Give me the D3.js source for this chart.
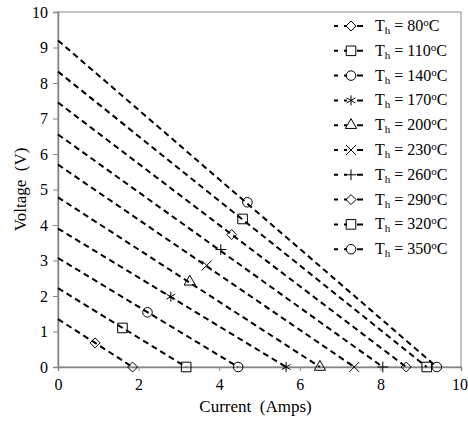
<!DOCTYPE html>
<html>
<head>
<meta charset="utf-8">
<script src="https://cdn.jsdelivr.net/npm/d3@7"></script>
<style>
  body { margin: 0; background: #fff; }
  text { font-family: "Liberation Serif", "Times New Roman", serif; fill: #000; }
</style>
</head>
<body>
<svg id="vis" width="468" height="421"></svg>
<script>
// hot side temperatures, one series each
const temps = [80, 110, 140, 170, 200, 230, 260, 290, 320, 350];
const symbols = ["diamond", "square", "circle", "asterisk", "triangle", "cross", "plus", "diamond", "square", "circle"];

// open circuit voltage (V) and short circuit current (A)
const vocValues = [1.35, 2.22, 3.07, 3.9, 4.78, 5.7, 6.55, 7.45, 8.32, 9.2];
const iscValues = [1.85, 3.18, 4.47, 5.66, 6.5, 7.35, 8.06, 8.64, 9.15, 9.4];

// the marker in the middle of each line
const midCurrent = [0.92, 1.6, 2.22, 2.8, 3.27, 3.69, 4.04, 4.31, 4.58, 4.7];
const midVoltage = [0.68, 1.1, 1.54, 1.98, 2.4, 2.86, 3.31, 3.73, 4.17, 4.64];

const xTicks = [0, 2, 4, 6, 8, 10];
const yTicks = [0, 1, 2, 3, 4, 5, 6, 7, 8, 9, 10];

const svg = d3.select("#vis");
const margin = { top: 12, right: 7, bottom: 54, left: 58 };
const width = +svg.attr("width") - margin.left - margin.right;
const height = +svg.attr("height") - margin.top - margin.bottom;
const axisColor = "#868686";
const serif = "'Liberation Serif', 'Times New Roman', serif";

const g = svg.append("g")
  .attr("transform", `translate(${margin.left}, ${margin.top})`);

const x = d3.scaleLinear().domain([0, 10]).range([0, width]);
const y = d3.scaleLinear().domain([0, 10]).range([height, 0]);

// plot frame
g.append("rect")
  .attr("width", width)
  .attr("height", height)
  .attr("fill", "none")
  .attr("stroke", axisColor)
  .attr("stroke-width", 1);

const xAxis = g.append("g")
  .attr("transform", `translate(0, ${height})`)
  .call(d3.axisBottom(x).tickValues(xTicks).tickSizeOuter(0).tickSize(4).tickPadding(8));
const yAxis = g.append("g")
  .call(d3.axisLeft(y).tickValues(yTicks).tickSizeOuter(0).tickSize(5).tickPadding(5));

[xAxis, yAxis].forEach(a => {
  a.attr("font-family", null);
  a.select(".domain").attr("stroke", axisColor).attr("stroke-width", 1.5);
  a.selectAll(".tick line").attr("stroke", axisColor);
  a.selectAll(".tick text")
    .style("font-family", serif)
    .attr("font-size", 16)
    .attr("fill", "#000");
});
// keep the last x label inside the page
xAxis.selectAll(".tick text").filter(d => d === 10).attr("dx", -1.5);

g.append("text")
  .attr("x", width / 2 - 4)
  .attr("y", height + 45)
  .attr("text-anchor", "middle")
  .attr("font-size", 17)
  .style("white-space", "pre")
  .text("Current  (Amps)");

g.append("text")
  .attr("transform", `translate(-32, ${height / 2}) rotate(-90)`)
  .attr("text-anchor", "middle")
  .attr("font-size", 17)
  .style("white-space", "pre")
  .text("Voltage  (V)");

// open diamond as a square turned 45 degrees
const diamondWide = {
  draw(ctx, size) {
    const r = Math.sqrt(size / 2);
    ctx.moveTo(0, -r);
    ctx.lineTo(r, 0);
    ctx.lineTo(0, r);
    ctx.lineTo(-r, 0);
    ctx.closePath();
  }
};
const symbolType = {
  diamond: diamondWide,
  square: d3.symbolSquare,
  circle: d3.symbolCircle,
  asterisk: d3.symbolAsterisk,
  triangle: d3.symbolTriangle,
  cross: d3.symbolTimes,
  plus: d3.symbolPlus
};
const symbolSize = {
  diamond: 50, square: 92, circle: 72, asterisk: 72, triangle: 55, cross: 68, plus: 40
};
function marker(sel, name) {
  sel.attr("d", d3.symbol().type(symbolType[name]).size(symbolSize[name])())
    .attr("fill", "none")
    .attr("stroke", "#000")
    .attr("stroke-width", 1);
}

const series = temps.map((t, i) => ({
  t, sym: symbols[i],
  voc: vocValues[i], isc: iscValues[i],
  mi: midCurrent[i], mv: midVoltage[i]
}));

const line = d3.line().x(d => x(d[0])).y(d => y(d[1]));

g.selectAll(".fit")
  .data(series)
  .join("path")
  .attr("class", "fit")
  .attr("d", d => line([[0, d.voc], [d.isc, 0]]))
  .attr("fill", "none")
  .attr("stroke", "#000")
  .attr("stroke-width", 2)
  .attr("stroke-dasharray", "6,4");

series.forEach(d => {
  [[d.mi, d.mv], [d.isc, 0]].forEach(p => {
    g.append("path")
      .attr("transform", `translate(${x(p[0])}, ${y(p[1])})`)
      .call(marker, d.sym);
  });
});

// legend
const legend = svg.append("g").attr("transform", "translate(334, 26)");
const rows = legend.selectAll("g")
  .data(series)
  .join("g")
  .attr("transform", (d, i) => `translate(0, ${i * 24.8})`);

rows.append("line")
  .attr("x1", 0).attr("x2", 29)
  .attr("stroke", "#000")
  .attr("stroke-width", 2)
  .attr("stroke-dasharray", "4,6,3,10,6");
rows.append("path")
  .attr("transform", "translate(17, 0)")
  .each(function(d) { d3.select(this).call(marker, d.sym); });

const label = rows.append("text")
  .attr("x", 41)
  .attr("y", 5)
  .attr("font-size", 16);
label.append("tspan").text("T");
label.append("tspan").attr("font-size", 11).attr("dy", 3).text("h");
label.append("tspan").attr("dy", -3).text(d => ` = ${d.t}`);
label.append("tspan").attr("font-size", 11).attr("dy", -5).text("o");
label.append("tspan").attr("dy", 5).text("C");
</script>
</body>
</html>
